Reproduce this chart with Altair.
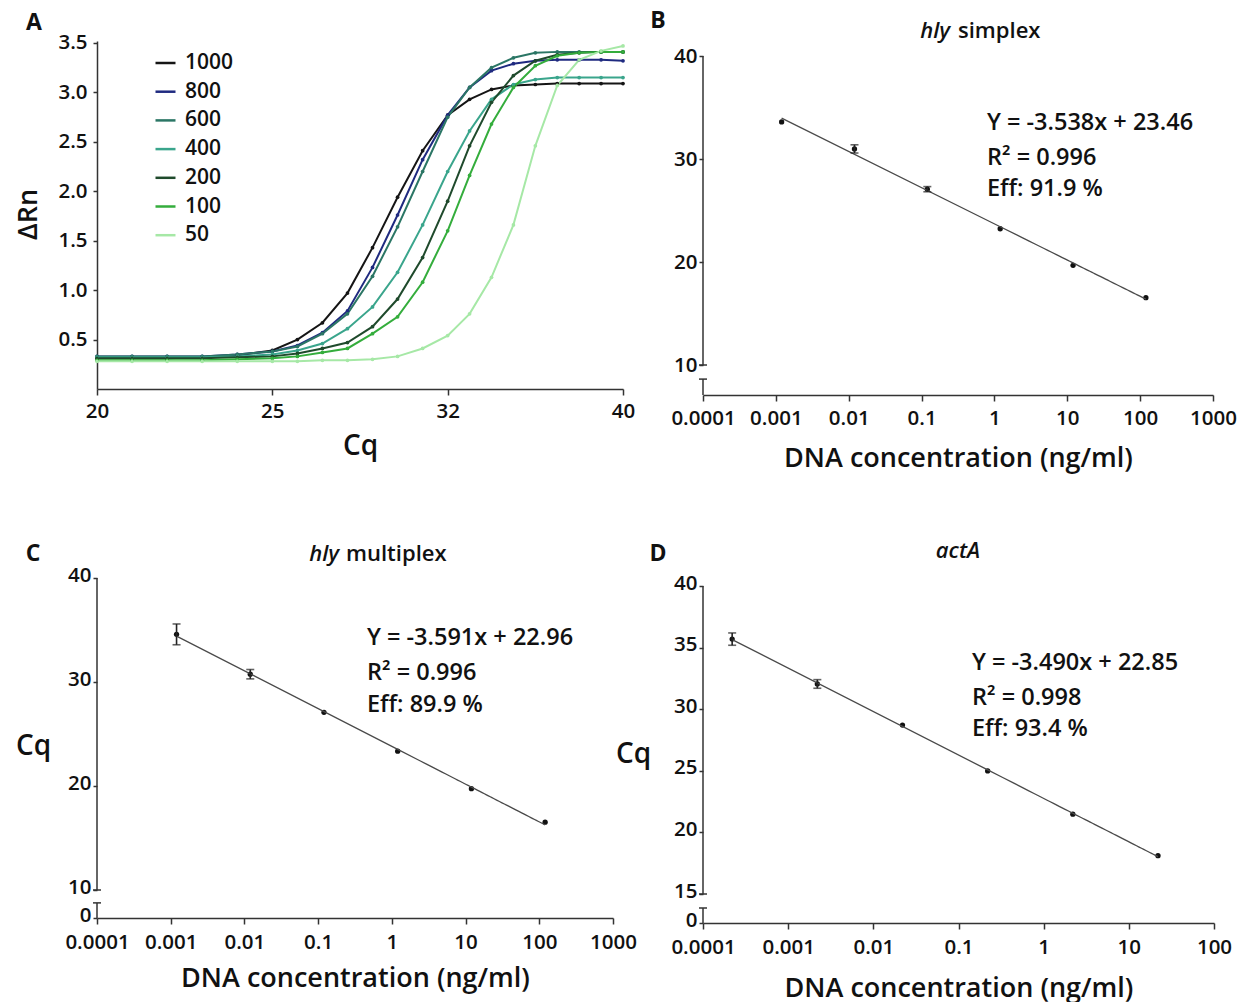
import altair as alt
import pandas as pd

FONT = "Open Sans"
WEIGHT = 600
TXT = "#111111"

# ---------------- Panel A data (amplification curves) ----------------
cycles = list(range(20, 41))
dilutions = ["1000", "800", "600", "400", "200", "100", "50"]
curve_colors = ["#151515", "#1f2a80", "#2b7665", "#3aa58c", "#1f4a2c", "#34ad3c", "#a6e8a6"]
drn_1000 = [0.31, 0.31, 0.31, 0.32, 0.34, 0.39, 0.50, 0.67, 0.97, 1.43, 1.94, 2.41, 2.77, 2.93, 3.03, 3.07, 3.08, 3.09, 3.09, 3.09, 3.09]
drn_800 = [0.33, 0.33, 0.33, 0.33, 0.35, 0.38, 0.44, 0.57, 0.79, 1.23, 1.76, 2.32, 2.77, 3.05, 3.22, 3.29, 3.32, 3.33, 3.33, 3.33, 3.32]
drn_600 = [0.33, 0.33, 0.33, 0.33, 0.35, 0.38, 0.43, 0.56, 0.76, 1.14, 1.64, 2.20, 2.75, 3.05, 3.25, 3.35, 3.40, 3.41, 3.41, 3.41, 3.41]
drn_400 = [0.32, 0.32, 0.32, 0.32, 0.33, 0.35, 0.39, 0.46, 0.61, 0.83, 1.18, 1.66, 2.20, 2.61, 2.93, 3.08, 3.13, 3.15, 3.15, 3.15, 3.15]
drn_200 = [0.31, 0.31, 0.31, 0.31, 0.32, 0.33, 0.36, 0.41, 0.47, 0.63, 0.91, 1.33, 1.90, 2.46, 2.90, 3.17, 3.32, 3.38, 3.40, 3.41, 3.41]
drn_100 = [0.29, 0.29, 0.29, 0.29, 0.30, 0.31, 0.33, 0.37, 0.41, 0.56, 0.73, 1.08, 1.60, 2.16, 2.68, 3.05, 3.27, 3.37, 3.40, 3.41, 3.41]
drn_50 = [0.28, 0.28, 0.28, 0.28, 0.28, 0.28, 0.28, 0.29, 0.29, 0.30, 0.33, 0.41, 0.54, 0.76, 1.13, 1.66, 2.46, 3.07, 3.33, 3.42, 3.47]
a_xticks = [20, 25, 32, 40]
a_yticks = [0.5, 1.0, 1.5, 2.0, 2.5, 3.0, 3.5]

# ---------------- Panel B: hly simplex ----------------
b_conc = [0.0012, 0.012, 0.12, 1.2, 12, 120]
b_cq = [33.6, 30.98, 27.07, 23.23, 19.68, 16.54]
b_err = [0.0, 0.4, 0.25, 0.0, 0.0, 0.0]
b_eq = ["Y = -3.538x + 23.46", "R\u00b2 = 0.996", "Eff: 91.9 %"]

# ---------------- Panel C: hly multiplex ----------------
c_conc = [0.0012, 0.012, 0.12, 1.2, 12, 120]
c_cq = [34.58, 30.75, 27.08, 23.35, 19.74, 16.52]
c_err = [1.0, 0.45, 0.0, 0.0, 0.0, 0.0]
c_eq = ["Y = -3.591x + 22.96", "R\u00b2 = 0.996", "Eff: 89.9 %"]

# ---------------- Panel D: actA ----------------
d_conc = [0.00022, 0.0022, 0.022, 0.22, 2.2, 22]
d_cq = [35.69, 32.05, 28.71, 24.99, 21.48, 18.11]
d_err = [0.5, 0.35, 0.0, 0.0, 0.0, 0.0]
d_eq = ["Y = -3.490x + 22.85", "R\u00b2 = 0.998", "Eff: 93.4 %"]

decades_1000 = [0.0001, 0.001, 0.01, 0.1, 1, 10, 100, 1000]
decades_100 = [0.0001, 0.001, 0.01, 0.1, 1, 10, 100]


def ax(**kw):
    base = dict(labelFont=FONT, labelFontSize=20.5, labelFontWeight=WEIGHT, labelColor=TXT,
                titleFont=FONT, titleFontSize=27, titleFontWeight=WEIGHT, titleColor=TXT,
                domainColor="#333333", tickColor="#333333", domainWidth=1.5,
                tickWidth=1.5, grid=False, labelFlush=False, labelOverlap=False)
    base.update(kw)
    return alt.Axis(**base)


def text_layer(txt, x, y, size=23.5, align="left", style="normal", weight=WEIGHT):
    return alt.Chart(pd.DataFrame({"t": [txt]})).mark_text(
        align=align, baseline="middle", font=FONT, fontSize=size, color=TXT,
        fontStyle=style, fontWeight=weight
    ).encode(x=alt.value(x), y=alt.value(y), text="t:N")


# ---------------- Build panel A ----------------
WA, HA = 526, 348
rowsA = []
for lab, vals in zip(dilutions, [drn_1000, drn_800, drn_600, drn_400, drn_200, drn_100, drn_50]):
    for c, v in zip(cycles, vals):
        rowsA.append({"cycle": c, "drn": v, "dil": lab})
dfA = pd.DataFrame(rowsA)

xA = alt.Scale(domain=a_xticks, range=[0, WA / 3, 2 * WA / 3, WA], nice=False, zero=False)
yA = alt.Scale(domain=[0, 3.52], nice=False, zero=False)
cA = alt.Scale(domain=dilutions, range=curve_colors)

lineA = alt.Chart(dfA).mark_line(strokeWidth=2).encode(
    x=alt.X("cycle:Q", scale=xA, axis=ax(values=a_xticks, title="Cq", tickSize=6, labelPadding=6,
                                          titleY=57, titleBaseline="middle", titleFontSize=28)),
    y=alt.Y("drn:Q", scale=yA, axis=ax(values=a_yticks, format=".1f", title="\u0394Rn", tickSize=4,
                                        labelPadding=6, titleX=-69, titleY=173, titleAngle=270,
                                        titleAlign="center", titleBaseline="middle")),
    color=alt.Color("dil:N", scale=cA, sort=dilutions,
                    legend=alt.Legend(orient="none", legendX=57, legendY=10.5, title=None,
                                      symbolType="stroke", symbolSize=400, symbolStrokeWidth=2.5,
                                      labelFont=FONT, labelFontSize=21, labelFontWeight=WEIGHT,
                                      labelColor=TXT, labelOffset=8, rowPadding=6.7, padding=0)),
)
ptsA = alt.Chart(dfA).mark_point(filled=True, size=14, opacity=1).encode(
    x=alt.X("cycle:Q", scale=xA),
    y=alt.Y("drn:Q", scale=yA),
    color=alt.Color("dil:N", scale=cA, sort=dilutions),
)
anchor = alt.Chart(pd.DataFrame({"a": [0]})).mark_rule(color="white", strokeWidth=1).encode(
    x=alt.value(-96), y=alt.value(-40), y2=alt.value(-39))

panelA = alt.layer(
    lineA, ptsA, anchor, text_layer("A", -63, -18, size=23, align="center", weight="bold")
).properties(width=WA, height=HA)


# ---------------- Standard-curve panels ----------------
def std_panel(conc, cq, err, xvals, ydom, yrange, yticks, ylower, W, H, eq, eq_x, eq_ys,
              title_parts, title_y, letter_xy, letter, ytitle=None, ytitle_xy=(0, 0), xtitle_y=63,
              ylab_offset=0, xlab_pad=7):
    df = pd.DataFrame({"conc": conc, "cq": cq, "err": err})
    xs = alt.Scale(type="log", domain=[xvals[0], xvals[-1]], nice=False)
    ys = alt.Scale(domain=ydom, range=yrange, nice=False, zero=False)

    yaxis_kw = dict(values=yticks, domain=False, tickSize=4, labelPadding=2, labelOffset=ylab_offset)
    if ytitle:
        yaxis_kw.update(title=ytitle, titleAngle=0, titleX=ytitle_xy[0], titleY=ytitle_xy[1],
                        titleAlign="center", titleBaseline="middle", titleFontSize=28)
    else:
        yaxis_kw.update(title=None)

    pts = alt.Chart(df).mark_circle(color="#111111", size=28, opacity=1).encode(
        x=alt.X("conc:Q", scale=xs,
                axis=ax(values=xvals, format="~f", title="DNA concentration (ng/ml)", tickSize=6,
                        labelPadding=xlab_pad, titleY=xtitle_y, titleBaseline="middle")),
        y=alt.Y("cq:Q", scale=ys, axis=ax(**yaxis_kw)),
    )
    reg = alt.Chart(df).transform_regression("conc", "cq", method="log").mark_line(
        color="#4a4a4a", strokeWidth=1.3).encode(x="conc:Q", y="cq:Q")
    ebase = alt.Chart(df).transform_filter("datum.err > 0").transform_calculate(
        lo="datum.cq - datum.err", hi="datum.cq + datum.err")
    ebar = ebase.mark_rule(color="#222222", strokeWidth=1.6).encode(
        x="conc:Q", y="lo:Q", y2="hi:Q")
    cap_lo = ebase.mark_tick(color="#222222", orient="horizontal", size=8, thickness=1.6).encode(
        x="conc:Q", y="lo:Q")
    cap_hi = ebase.mark_tick(color="#222222", orient="horizontal", size=8, thickness=1.6).encode(
        x="conc:Q", y="hi:Q")
    # broken y-axis line with caps
    axdf = pd.DataFrame({"y1": [ydom[1], ydom[0]], "y2": [ydom[-1], ylower]})
    axline = alt.Chart(axdf).mark_rule(color="#333333", strokeWidth=1.5).encode(
        x=alt.value(0), y="y1:Q", y2="y2:Q")
    capdf = pd.DataFrame({"yc": [ydom[1], ylower]})
    caps = alt.Chart(capdf).mark_rule(color="#333333", strokeWidth=1.5).encode(
        x=alt.value(-4), x2=alt.value(4), y="yc:Q")

    layers = [pts, axline, caps, reg, ebar, cap_lo, cap_hi]
    for line, yy in zip(eq, eq_ys):
        layers.append(text_layer(line, eq_x, yy))
    for (txt, xx, al, st) in title_parts:
        layers.append(text_layer(txt, xx, title_y, size=22, align=al, style=st))
    layers.append(text_layer(letter, letter_xy[0], letter_xy[1], size=23, align="center", weight="bold"))
    return alt.layer(*layers).properties(width=W, height=H)


# Panel B
WB, HB = 510, 354
panelB = std_panel(b_conc, b_cq, b_err, decades_1000, [0, 10, 40], [HB, 324, 15],
                   [10, 20, 30, 40], 5.3, WB, HB, b_eq, 284, [82, 117, 148],
                   [("hly", 247, "right", "italic"), ("simplex", 255, "left", "normal")], -10,
                   (-45, -20), "B", xtitle_y=63)

# Panel C
WC, HC = 516, 342
panelC = std_panel(c_conc, c_cq, c_err, decades_1000, [0, 10, 40], [HC, 314, 2],
                   [0, 10, 20, 30, 40], 5.4, WC, HC, c_eq, 270, [62, 97, 129],
                   [("hly", 242, "right", "italic"), ("multiplex", 249, "left", "normal")], -22,
                   (-64, -22), "C", ytitle="Cq", ytitle_xy=(-64, 170), xtitle_y=60,
                   ylab_offset=-3, xlab_pad=8)

# Panel D
WD, HD = 511, 347
panelD = std_panel(d_conc, d_cq, d_err, decades_100, [0, 15, 40], [HD, 318, 10],
                   [0, 15, 20, 25, 30, 35, 40], 7.76, WD, HD, d_eq, 269, [87, 122, 153],
                   [("actA", 255, "center", "italic")], -25,
                   (-45, -22), "D", ytitle="Cq", ytitle_xy=(-70, 178), xtitle_y=65,
                   ylab_offset=-3, xlab_pad=8)

chart = alt.concat(panelA, panelB, panelC, panelD, columns=2, bounds="flush",
                   spacing={"row": 181, "column": 80}).properties(
    padding={"left": 0, "top": 0, "right": 5, "bottom": 5}, background="white"
).configure_view(stroke=None)

chart.save("out.html", embed_options={"renderer": "svg", "actions": False})
